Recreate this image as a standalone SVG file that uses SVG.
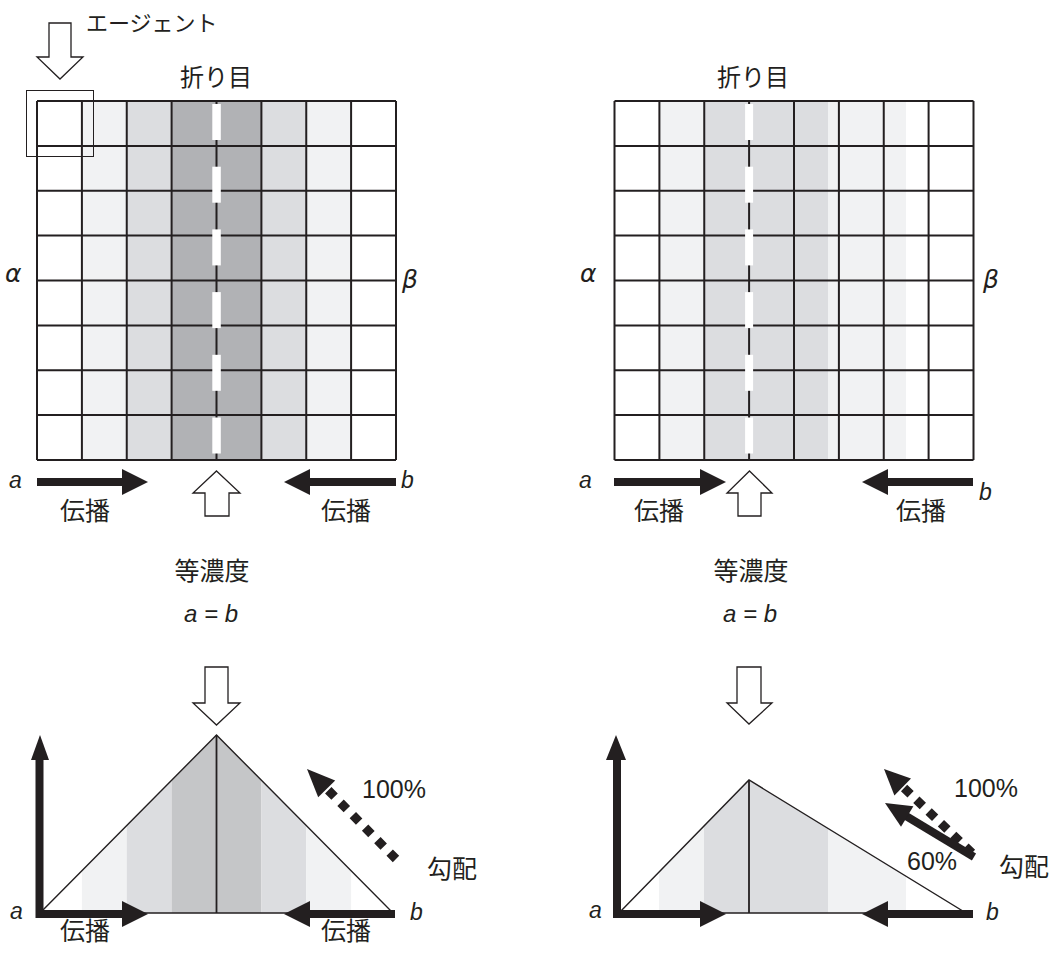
<svg xmlns="http://www.w3.org/2000/svg" width="1061" height="953" viewBox="0 0 1061 953">
<style>
.jp{font-family:"Noto Sans CJK JP","Noto Sans CJK SC",sans-serif;fill:#231f20}
.lt{font-family:"Liberation Sans",Arial,sans-serif;fill:#231f20}
.it{font-family:"Liberation Sans",Arial,sans-serif;font-style:italic;fill:#231f20}
.gk{font-family:"DejaVu Sans",sans-serif;font-style:italic;fill:#231f20}
.grid{stroke:#231f20;stroke-width:2;fill:none}
.l{fill:#f1f2f3}.m{fill:#dcdde0}.d{fill:#b1b2b5}.dc{fill:#c5c6c8}
.dash{fill:#fff}
.solid{fill:#231f20}
.hollow{fill:#fff;stroke:#231f20;stroke-width:1.3}
.tri{fill:none;stroke:#231f20;stroke-width:1.4}
.shaft{stroke:#231f20;stroke-width:8;fill:none}
</style>
<defs>
<clipPath id="triL"><polygon points="40,913 216.5,735 393,913"/></clipPath>
<clipPath id="triR"><polygon points="619,913 749,780 966,913"/></clipPath>
</defs>

<g id="grid-left">
<rect x="81.9" y="101" width="44.85" height="359" class="l"/>
<rect x="126.75" y="101" width="44.85" height="359" class="m"/>
<rect x="171.6" y="101" width="89.8" height="359" class="d"/>
<rect x="261.4" y="101" width="44.85" height="359" class="m"/>
<rect x="306.25" y="101" width="44.85" height="359" class="l"/>
<path class="grid" d="M37,101V460M81.9,101V460M126.75,101V460M171.6,101V460M216.5,101V460M261.4,101V460M306.25,101V460M351.1,101V460M396,101V460M37,101H396M37,145.9H396M37,190.75H396M37,235.6H396M37,280.5H396M37,325.4H396M37,370.25H396M37,415.1H396M37,460H396"/>
<g class="dash">
<rect x="212.3" y="104" width="8.5" height="36"/>
<rect x="212.3" y="166.7" width="8.5" height="36"/>
<rect x="212.3" y="229.4" width="8.5" height="36"/>
<rect x="212.3" y="292.1" width="8.5" height="36"/>
<rect x="212.3" y="354.8" width="8.5" height="36"/>
<rect x="212.3" y="417.5" width="8.5" height="36"/>
</g>
</g>

<g id="agent">
<rect x="26.5" y="90.5" width="67" height="66" fill="none" stroke="#231f20" stroke-width="1"/>
<polygon class="hollow" points="49,23 71,23 71,57 83,57 60,79 37,57 49,57"/>
<text x="86" y="31" class="jp" font-size="22">エージェント</text>
</g>

<g id="grid-right">
<rect x="659.4" y="101" width="44.85" height="359" class="l"/>
<rect x="704.25" y="101" width="123.75" height="359" class="m"/>
<rect x="828" y="101" width="78" height="359" class="l"/>
<path class="grid" d="M614.5,101V460M659.4,101V460M704.25,101V460M749.1,101V460M794,101V460M838.9,101V460M883.75,101V460M928.6,101V460M973.5,101V460M614.5,101H973.5M614.5,145.9H973.5M614.5,190.75H973.5M614.5,235.6H973.5M614.5,280.5H973.5M614.5,325.4H973.5M614.5,370.25H973.5M614.5,415.1H973.5M614.5,460H973.5"/>
<g class="dash">
<rect x="745.1" y="104" width="8" height="36"/>
<rect x="745.1" y="166.7" width="8" height="36"/>
<rect x="745.1" y="229.4" width="8" height="36"/>
<rect x="745.1" y="292.1" width="8" height="36"/>
<rect x="745.1" y="354.8" width="8" height="36"/>
<rect x="745.1" y="417.5" width="8" height="36"/>
</g>
</g>

<g id="labels-top">
<text x="216" y="86" class="jp" font-size="24" text-anchor="middle">折り目</text>
<text x="753" y="86" class="jp" font-size="24" text-anchor="middle">折り目</text>
<text x="5" y="282" class="gk" font-size="25">α</text>
<text x="402" y="288" class="gk" font-size="25">β</text>
<text x="580" y="282" class="gk" font-size="25">α</text>
<text x="983" y="288" class="gk" font-size="25">β</text>
</g>

<g id="chart-left">
<g clip-path="url(#triL)">
<rect x="81.9" y="730" width="44.85" height="190" class="l"/>
<rect x="126.75" y="730" width="44.85" height="190" class="m"/>
<rect x="171.6" y="730" width="89.8" height="190" class="dc"/>
<rect x="261.4" y="730" width="44.85" height="190" class="m"/>
<rect x="306.25" y="730" width="44.85" height="190" class="l"/>
</g>
<polygon class="tri" points="40,913 216.5,735 393,913"/>
<line x1="216.5" y1="735" x2="216.5" y2="913" stroke="#231f20" stroke-width="1.8"/>
<polygon class="hollow" points="205,667 228,667 228,703 240,703 216.5,725 193,703 205,703"/>
</g>

<g id="chart-right">
<g clip-path="url(#triR)">
<rect x="659" y="775" width="45" height="145" class="l"/>
<rect x="704" y="775" width="124" height="145" class="m"/>
<rect x="828" y="775" width="78" height="145" class="l"/>
</g>
<polygon class="tri" points="619,913 749,780 966,913"/>
<line x1="749" y1="780" x2="749" y2="913" stroke="#231f20" stroke-width="1.8"/>
<polygon class="hollow" points="737,667 761,667 761,703 772,703 749,724 727,703 737,703"/>
</g>

<g id="connectors">
<path class="shaft" d="M37,482H123"/>
<polygon class="solid" points="122,469 148,482 122,495"/>
<path class="shaft" d="M309,482H396"/>
<polygon class="solid" points="310,469 284,482 310,495"/>
<polygon class="hollow" points="216.5,471 240,493 229,493 229,516 205,516 205,493 193,493"/>
<path class="shaft" d="M614,482H701"/>
<polygon class="solid" points="700,469 726,482 700,495"/>
<path class="shaft" d="M887,482H973"/>
<polygon class="solid" points="888,469 862,482 888,495"/>
<polygon class="hollow" points="749.5,471 772,493 761,493 761,516 738,516 738,493 727,493"/>
<path class="shaft" d="M39.5,759V918M35.5,914H123"/>
<polygon class="solid" points="40,735 49,760 31,760"/>
<polygon class="solid" points="122,901 148,914 122,927"/>
<path class="shaft" d="M309,914H395"/>
<polygon class="solid" points="310,901 284,914 310,927"/>
<path d="M396,859L327,789" stroke="#231f20" stroke-width="9" stroke-dasharray="9 8.5" fill="none"/>
<polygon class="solid" points="307,769 335.2,780.5 318.2,797.3"/>
<path class="shaft" d="M617,759V918M613,914H701"/>
<polygon class="solid" points="616,735 626,760 606,760"/>
<polygon class="solid" points="700,901 726,914 700,927"/>
<path class="shaft" d="M887,914H973"/>
<polygon class="solid" points="888,901 862,914 888,927"/>
<path d="M972,853L903,787" stroke="#231f20" stroke-width="9" stroke-dasharray="9 8" fill="none"/>
<polygon class="solid" points="884,769 911,778.4 894.4,795.6"/>
<path class="shaft" d="M974,857L906,816"/>
<polygon class="solid" points="885,803 913.4,806.2 901,826.8"/>
</g>

<g id="labels-bottom">
<text x="9" y="488" class="it" font-size="23">a</text>
<text x="401" y="488" class="it" font-size="23">b</text>
<text x="60" y="520" class="jp" font-size="25">伝播</text>
<text x="321" y="520" class="jp" font-size="25">伝播</text>
<text x="579" y="488" class="it" font-size="23">a</text>
<text x="979" y="500" class="it" font-size="23">b</text>
<text x="634" y="520" class="jp" font-size="25">伝播</text>
<text x="896" y="520" class="jp" font-size="25">伝播</text>
<text x="212" y="580" class="jp" font-size="25" text-anchor="middle">等濃度</text>
<text x="211" y="622" class="it" font-size="24" text-anchor="middle">a = b</text>
<text x="751" y="580" class="jp" font-size="25" text-anchor="middle">等濃度</text>
<text x="750" y="622" class="it" font-size="24" text-anchor="middle">a = b</text>
<text x="10" y="919" class="it" font-size="23">a</text>
<text x="410" y="920" class="it" font-size="23">b</text>
<text x="60" y="940" class="jp" font-size="25">伝播</text>
<text x="321" y="940" class="jp" font-size="25">伝播</text>
<text x="362" y="798" class="lt" font-size="25">100%</text>
<text x="427" y="878" class="jp" font-size="25">勾配</text>
<text x="589" y="918" class="it" font-size="23">a</text>
<text x="986" y="920" class="it" font-size="23">b</text>
<text x="954" y="797" class="lt" font-size="25">100%</text>
<text x="907" y="870" class="lt" font-size="25">60%</text>
<text x="999" y="876" class="jp" font-size="25">勾配</text>
</g>
</svg>
